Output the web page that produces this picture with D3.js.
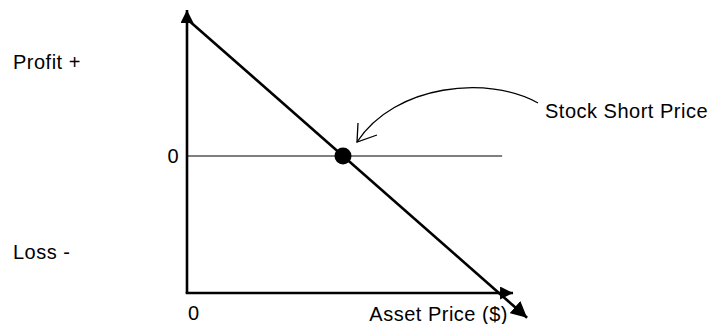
<!DOCTYPE html>
<html>
<head>
<meta charset="utf-8">
<script src="https://cdn.jsdelivr.net/npm/d3@7"></script>
<style>
html,body{margin:0;padding:0;background:#fff;}
svg{display:block;font-family:"Liberation Sans",Arial,Helvetica,sans-serif;}
</style>
</head>
<body>
<svg id="chart" width="710" height="324"></svg>
<script>
// ---- data ----
const payoffPrices = [0, 109];      // asset price at line ends
const payoffValues = [50, -59];     // profit / loss at those prices
const shortPrice = 50;              // stock short price (breakeven)
const yLabels = ["Profit +", "Loss -"];
const xTickLabels = ["0"];
const yTickLabels = ["0"];
const xAxisTitle = "Asset Price ($)";
const annotationText = "Stock Short Price";

// ---- scales ----
const x = d3.scaleLinear().domain([0, 100]).range([187, 499]);
const y = d3.scaleLinear().domain([-50, 50]).range([293, 19]);

const svg = d3.select("#chart");
const defs = svg.append("defs");
function marker(id, size) {
  defs.append("marker").attr("id",id).attr("viewBox","0 0 10 10")
    .attr("refX",10).attr("refY",5).attr("markerUnits","userSpaceOnUse")
    .attr("markerWidth",size).attr("markerHeight",size).attr("orient","auto")
    .append("path").attr("d","M0,0 L10,5 L0,10 Z").attr("fill","#000");
}
marker("tri", 13);
marker("triBig", 16);

// zero line
svg.append("line")
  .attr("x1", x(0)).attr("x2", x(101))
  .attr("y1", y(0)).attr("y2", y(0))
  .attr("stroke","#000").attr("stroke-width",1.2);

// y axis
svg.append("line")
  .attr("x1", x(0)).attr("x2", x(0))
  .attr("y1", y(-50)).attr("y2", y(53.3))
  .attr("stroke","#000").attr("stroke-width",2.6)
  .attr("marker-end","url(#tri)");

// x axis
svg.append("line")
  .attr("x1", x(0) - 1.3).attr("x2", x(104.5))
  .attr("y1", y(-50)).attr("y2", y(-50))
  .attr("stroke","#000").attr("stroke-width",2.6)
  .attr("marker-end","url(#tri)");

// payoff line
const line = d3.line().x(d => x(d[0])).y(d => y(d[1]));
svg.append("path")
  .datum(payoffPrices.map((p,i)=>[p,payoffValues[i]]))
  .attr("d", line)
  .attr("fill","none").attr("stroke","#000").attr("stroke-width",2.6)
  .attr("marker-end","url(#triBig)");

// breakeven dot
const bx = x(shortPrice), by = y(0);
svg.append("circle").attr("cx",bx).attr("cy",by).attr("r",8.5).attr("fill","#000");

// annotation curve with open arrowhead
const tip = [bx + 14, by - 14];
const start = [bx + 195, by - 53];
svg.append("path")
  .attr("d", `M${start[0]},${start[1]} C${start[0]-50},${start[1]-28} ${tip[0]+38},${tip[1]-58} ${tip[0]},${tip[1]}`)
  .attr("fill","none").attr("stroke","#000").attr("stroke-width",1.3);
svg.append("path")
  .attr("d", `M${tip[0]+1},${tip[1]-19} L${tip[0]},${tip[1]} L${tip[0]+20},${tip[1]-7}`)
  .attr("fill","none").attr("stroke","#000").attr("stroke-width",1.3);

// texts
const fs = 20;
const txt = (t, xx, yy, anchor) => svg.append("text")
  .attr("x",xx).attr("y",yy).attr("text-anchor",anchor||"start")
  .attr("font-size",fs).attr("letter-spacing",0.5).text(t);
txt(yLabels[0], 13, 69);
txt(yLabels[1], 13, 259);
txt(yTickLabels[0], x(0)-8, y(0)+7, "end");
txt(xTickLabels[0], x(0)+1, 320);
txt(xAxisTitle, 508, 320.5, "end");
txt(annotationText, 545, 118);
</script>
</body>
</html>
